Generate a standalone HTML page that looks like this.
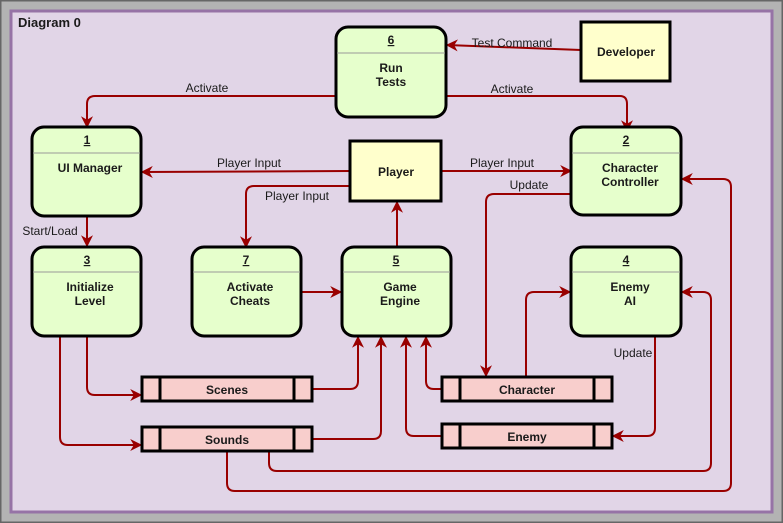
<!DOCTYPE html>
<html><head><style>
html,body{margin:0;padding:0;background:#b3b3b3}
svg{display:block}
text{font-family:"Liberation Sans",Arial,sans-serif;font-size:12px;fill:#1a1a1a}
.b{font-weight:bold}
</style></head><body>
<svg width="783" height="523" viewBox="0 0 783 523" xmlns="http://www.w3.org/2000/svg">
<defs>
<marker id="a" viewBox="0 0 10 10" refX="9" refY="5" markerWidth="6" markerHeight="6" orient="auto"><path d="M0,0 L10,5 L0,10 L3,5 z" fill="#990000"/></marker>
</defs>
<rect x="0.5" y="0.5" width="782" height="522" fill="#b3b3b3" stroke="#666" stroke-width="2"/>
<rect x="11" y="11" width="761" height="501" fill="#e1d5e7" stroke="#9673a6" stroke-width="3"/>
<text x="18" y="27" class="b" style="font-size:13px">Diagram 0</text>

<g fill="none" stroke="#990000" stroke-width="2" stroke-linejoin="round" marker-end="url(#a)">
<path d="M581,50 L447,45"/>
<path d="M336,96 L95,96 Q87,96 87,104 L87,127"/>
<path d="M446,96 L620,96 Q627,96 627,104 L627,131"/>
<path d="M350,171 L142,172"/>
<path d="M441,171 L571,171"/>
<path d="M350,186 L254,186 Q246,186 246,194 L246,247"/>
<path d="M397,247 L397,202"/>
<path d="M87,216 L87,246"/>
<path d="M301,292 L341,292"/>
<path d="M571,194 L494,194 Q486,194 486,202 L486,376"/>
<path d="M526,377 L526,300 Q526,292 534,292 L570,292"/>
<path d="M655,336 L655,428 Q655,436 647,436 L613,436"/>
<path d="M87,336 L87,387 Q87,395 95,395 L141,395"/>
<path d="M60,336 L60,437 Q60,445 68,445 L141,445"/>
<path d="M312,389 L350,389 Q358,389 358,381 L358,337"/>
<path d="M312,439 L373,439 Q381,439 381,431 L381,337"/>
<path d="M442,389 L434,389 Q426,389 426,381 L426,337"/>
<path d="M442,436 L414,436 Q406,436 406,428 L406,337"/>
<path d="M269,451 L269,463 Q269,471 277,471 L703,471 Q711,471 711,463 L711,300 Q711,292 703,292 L682,292"/>
<path d="M227,451 L227,483 Q227,491 235,491 L723,491 Q731,491 731,483 L731,187 Q731,179 723,179 L682,179"/>
</g>

<g text-anchor="middle">
<text x="512" y="47">Test Command</text>
<text x="207" y="92">Activate</text>
<text x="512" y="93">Activate</text>
<text x="249" y="167">Player Input</text>
<text x="502" y="167">Player Input</text>
<text x="297" y="200">Player Input</text>
<text x="50" y="235">Start/Load</text>
<text x="529" y="189">Update</text>
<text x="633" y="357">Update</text>
</g>

<g stroke="#000" stroke-width="3" fill="#e6ffcc">
<rect x="336" y="27" width="110" height="90" rx="12"/>
<rect x="32" y="127" width="109" height="89" rx="12"/>
<rect x="571" y="127" width="110" height="88" rx="12"/>
<rect x="32" y="247" width="109" height="89" rx="12"/>
<rect x="192" y="247" width="109" height="89" rx="12"/>
<rect x="342" y="247" width="109" height="89" rx="12"/>
<rect x="571" y="247" width="110" height="89" rx="12"/>
</g>
<g stroke="#999" stroke-width="1">
<line x1="337" y1="53" x2="445" y2="53"/>
<line x1="33" y1="153" x2="140" y2="153"/>
<line x1="572" y1="153" x2="680" y2="153"/>
<line x1="33" y1="272" x2="140" y2="272"/>
<line x1="193" y1="272" x2="300" y2="272"/>
<line x1="343" y1="272" x2="450" y2="272"/>
<line x1="572" y1="272" x2="680" y2="272"/>
</g>
<g text-anchor="middle" class="b">
<text x="391" y="44" text-decoration="underline">6</text>
<text x="391" y="72">Run</text><text x="391" y="86">Tests</text>
<text x="87" y="144" text-decoration="underline">1</text>
<text x="90" y="172">UI Manager</text>
<text x="626" y="144" text-decoration="underline">2</text>
<text x="630" y="172">Character</text><text x="630" y="186">Controller</text>
<text x="87" y="264" text-decoration="underline">3</text>
<text x="90" y="291">Initialize</text><text x="90" y="305">Level</text>
<text x="246" y="264" text-decoration="underline">7</text>
<text x="250" y="291">Activate</text><text x="250" y="305">Cheats</text>
<text x="396" y="264" text-decoration="underline">5</text>
<text x="400" y="291">Game</text><text x="400" y="305">Engine</text>
<text x="626" y="264" text-decoration="underline">4</text>
<text x="630" y="291">Enemy</text><text x="630" y="305">AI</text>
</g>

<g stroke="#000" stroke-width="3" fill="#ffffcc">
<rect x="581" y="22" width="89" height="59"/>
<rect x="350" y="141" width="91" height="60"/>
</g>
<text x="626" y="56" text-anchor="middle" class="b">Developer</text>
<text x="396" y="176" text-anchor="middle" class="b">Player</text>

<g stroke="#000" stroke-width="3" fill="#f8cecc">
<rect x="142" y="377" width="170" height="24"/>
<rect x="142" y="427" width="170" height="24"/>
<rect x="442" y="377" width="170" height="24"/>
<rect x="442" y="424" width="170" height="24"/>
<path d="M160,377v24M294,377v24M160,427v24M294,427v24M460,377v24M594,377v24M460,424v24M594,424v24" fill="none"/>
</g>
<g text-anchor="middle" class="b">
<text x="227" y="394">Scenes</text>
<text x="227" y="444">Sounds</text>
<text x="527" y="394">Character</text>
<text x="527" y="441">Enemy</text>
</g>
</svg>
</body></html>
